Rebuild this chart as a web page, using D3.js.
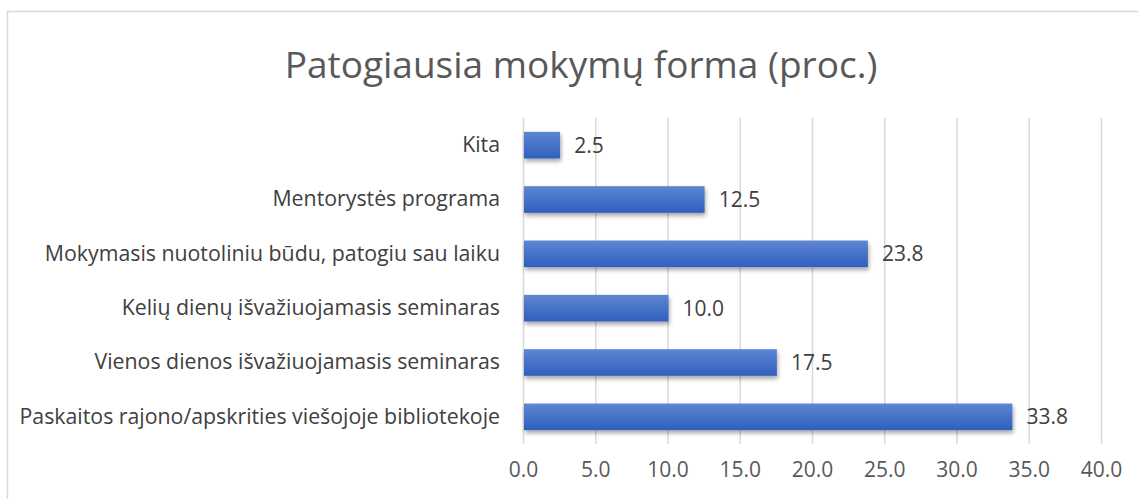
<!DOCTYPE html>
<html>
<head>
<meta charset="utf-8">
<script src="https://cdn.jsdelivr.net/npm/d3@7"></script>
<style>
	body { margin: 0; background: #fff; }
	svg { display: block; font-family: 'Open Sans', 'Noto Sans', sans-serif; }
</style>
</head>
<body>
<div id="app"></div>
<script>
const categories = [
	'Kita',
	'Mentorystės programa',
	'Mokymasis nuotoliniu būdu, patogiu sau laiku',
	'Kelių dienų išvažiuojamasis seminaras',
	'Vienos dienos išvažiuojamasis seminaras',
	'Paskaitos rajono/apskrities viešojoje bibliotekoje',
];
const values = [2.5, 12.5, 23.8, 10.0, 17.5, 33.8];
const ticks = [0, 5, 10, 15, 20, 25, 30, 35, 40];
const title = 'Patogiausia mokymų forma (proc.)';

const width = 1138;
const height = 499;
const margin = { top: 118, right: 37, bottom: 55, left: 523 };
const font = "'Open Sans', 'Noto Sans', sans-serif";

const svg = d3.select('#app').append('svg')
	.attr('width', width)
	.attr('height', height);

const defs = svg.append('defs');
const grad = defs.append('linearGradient')
	.attr('id', 'barGrad')
	.attr('x1', 0).attr('y1', 0).attr('x2', 0).attr('y2', 1);
grad.append('stop').attr('offset', '0%').attr('stop-color', '#5f86d2');
grad.append('stop').attr('offset', '100%').attr('stop-color', '#2f5fbd');

const shadow = defs.append('filter')
	.attr('id', 'shadow')
	.attr('x', '-10%').attr('y', '-30%').attr('width', '120%').attr('height', '180%');
shadow.append('feDropShadow')
	.attr('dx', 1).attr('dy', 3).attr('stdDeviation', 2)
	.attr('flood-color', '#000').attr('flood-opacity', 0.35);

// chart border (only top and left visible)
svg.append('path')
	.attr('d', `M${width},11.5 H7.5 V${height}`)
	.attr('fill', 'none')
	.attr('stroke', '#d9d9d9')
	.attr('stroke-width', 1.5);

svg.append('text')
	.attr('x', 581)
	.attr('y', 78)
	.attr('text-anchor', 'middle')
	.attr('font-size', 37)
	.attr('fill', '#595959')
	.text(title);

const x = d3.scaleLinear()
	.domain([0, 40])
	.range([margin.left, width - margin.right]);

const y = d3.scaleBand()
	.domain(categories)
	.range([margin.top, height - margin.bottom])
	.paddingInner(0.51)
	.paddingOuter(0.255);

// vertical gridlines
svg.append('g')
	.selectAll('line')
	.data(ticks)
	.join('line')
	.attr('x1', (d) => x(d) + 0.5)
	.attr('x2', (d) => x(d) + 0.5)
	.attr('y1', margin.top)
	.attr('y2', height - margin.bottom)
	.attr('stroke', '#d9d9d9')
	.attr('stroke-width', 1.5);

// x axis labels
const xAxis = svg.append('g')
	.attr('transform', `translate(0,${height - margin.bottom})`)
	.call(d3.axisBottom(x).tickValues(ticks).tickFormat(d3.format('.1f')).tickSize(0).tickPadding(18));
xAxis.select('.domain').remove();
xAxis.selectAll('text')
	.attr('font-size', 21)
	.attr('font-family', font)
	.attr('fill', '#595959');

// y axis labels
const yAxis = svg.append('g')
	.attr('transform', `translate(${margin.left},0)`)
	.call(d3.axisLeft(y).tickSize(0).tickPadding(23));
yAxis.select('.domain').remove();
yAxis.selectAll('text')
	.attr('font-size', 21.3)
	.attr('font-family', font)
	.attr('fill', '#404040');

// bars
svg.append('g')
	.selectAll('rect')
	.data(values)
	.join('rect')
	.attr('x', x(0) + 1)
	.attr('y', (d, i) => y(categories[i]))
	.attr('width', (d) => x(d) - x(0))
	.attr('height', y.bandwidth())
	.attr('fill', 'url(#barGrad)')
	.attr('filter', 'url(#shadow)');

// value labels
svg.append('g')
	.selectAll('text')
	.data(values)
	.join('text')
	.attr('x', (d) => x(d) + 15)
	.attr('y', (d, i) => y(categories[i]) + y.bandwidth() / 2)
	.attr('dy', '0.35em')
	.attr('font-size', 21)
	.attr('fill', '#404040')
	.text((d) => d3.format('.1f')(d));
</script>
</body>
</html>
